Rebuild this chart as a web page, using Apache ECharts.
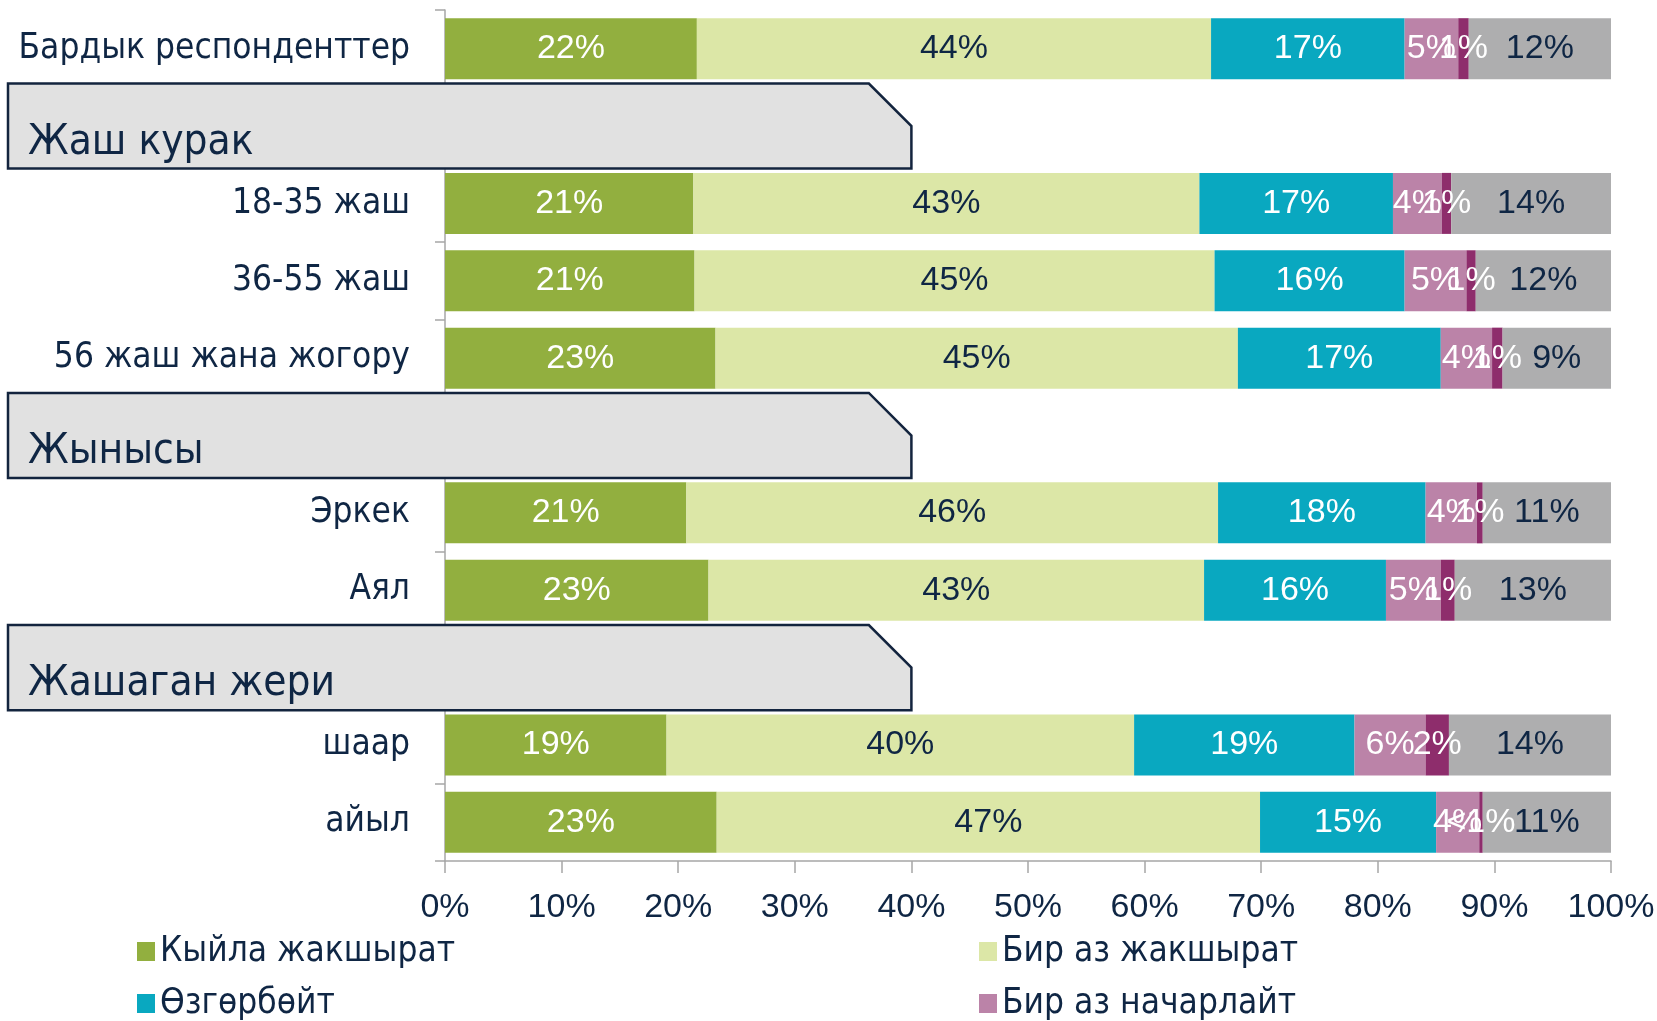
<!DOCTYPE html>
<html>
<head>
<meta charset="utf-8">
<script src="https://cdn.jsdelivr.net/npm/echarts@6/dist/echarts.min.js"></script>
<style>
  html, body { margin: 0; padding: 0; background: #fff; }
  #chart { width: 1657px; height: 1021px; }
</style>
</head>
<body>
<div id="chart"></div>
<script>
// категориялар (башкы сап аталыштары да ушул тизмеде)
const categories = ['Бардык респонденттер', 'Жаш курак', '18-35 жаш', '36-55 жаш', '56 жаш жана жогору',
  'Жынысы', 'Эркек', 'Аял', 'Жашаган жери', 'шаар', 'айыл'];
const headers = ['Жаш курак', 'Жынысы', 'Жашаган жери'];

const seriesNames = ['Кыйла жакшырат', 'Бир аз жакшырат', 'Өзгөрбөйт', 'Бир аз начарлайт', 'Кыйла начарлайт', 'Билбейм'];

const muchBetter   = [21.6, null, 21.3, 21.4, 23.2, null, 20.7, 22.6, null, 19.0, 23.3];
const littleBetter = [44.1, null, 43.4, 44.6, 44.8, null, 45.6, 42.5, null, 40.1, 46.6];
const noChange     = [16.6, null, 16.6, 16.3, 17.4, null, 17.8, 15.6, null, 18.9, 15.1];
const littleWorse  = [4.6,  null, 4.2,  5.3,  4.4,  null, 4.4,  4.7,  null, 6.1,  3.7];
const muchWorse    = [0.9,  null, 0.8,  0.8,  0.9,  null, 0.5,  1.2,  null, 2.0,  0.3];
const dontKnow     = [12.2, null, 13.7, 11.6, 9.3,  null, 11.0, 13.4, null, 13.9, 11.0];

const xTicks = [0, 10, 20, 30, 40, 50, 60, 70, 80, 90, 100];

const navy = '#0f2644';
const colors = ['#92af3f', '#dce7a7', '#09a8c0', '#bb83a8', '#8e2d6c', '#aeaeaf'];
const labelColors = ['#fff', navy, '#fff', '#fff', '#fff', navy];
const textFont = "'DejaVu Sans Condensed', 'DejaVu Sans', sans-serif";
const numFont = "'Liberation Sans Narrow', 'Liberation Sans', sans-serif";

const chart = echarts.init(document.getElementById('chart'));

const values = [muchBetter, littleBetter, noChange, littleWorse, muchWorse, dontKnow];

const barSeries = values.map((arr, i) => ({
  name: seriesNames[i],
  type: 'bar',
  stack: 'total',
  barWidth: 61,
  data: arr,
  itemStyle: { color: colors[i] },
  label: {
    show: true,
    position: 'inside',
    fontFamily: numFont,
    fontSize: 34,
    color: labelColors[i],
    formatter: p => {
      if (p.value == null) return '';
      return p.value < 0.5 ? '<1%' : Math.round(p.value) + '%';
    }
  },
  emphasis: { disabled: true }
}));

// сап аталыштарынын боз кутучалары
const headerSeries = {
  type: 'custom',
  name: 'headers',
  clip: false,
  z: 10,
  data: headers.map(h => [40, categories.indexOf(h), h]),
  renderItem: (params, api) => {
    const p = api.coord([api.value(0), api.value(1)]);
    const band = api.size([0, 1])[1];
    const h = band * 1.1;
    const top = p[1] - h / 2, bottom = p[1] + h / 2;
    const x0 = 8, x1 = p[0];
    return {
      type: 'group',
      children: [
        {
          type: 'polygon',
          shape: { points: [[x0, top], [x1 - h / 2, top], [x1, p[1]], [x1, bottom], [x0, bottom]] },
          style: { fill: '#e1e1e1', stroke: '#13243e', lineWidth: 2.5 }
        },
        {
          type: 'text',
          style: {
            x: 28, y: p[1] + 17,
            text: headers[params.dataIndex],
            fill: navy,
            font: '42px ' + textFont,
            verticalAlign: 'middle',
            align: 'left'
          }
        }
      ]
    };
  }
};

const legendBase = {
  orient: 'vertical',
  icon: 'rect',
  padding: 0,
  itemWidth: 18,
  itemHeight: 19,
  itemGap: 17,
  top: 934,
  textStyle: { color: navy, fontSize: 35, lineHeight: 34, fontFamily: textFont }
};

chart.setOption({
  animation: false,
  backgroundColor: '#fff',
  grid: { left: 445, right: 46, top: 10, bottom: 160, outerBoundsMode: 'none' },
  legend: [
    Object.assign({}, legendBase, { left: 137, data: [seriesNames[0], seriesNames[2]] }),
    Object.assign({}, legendBase, { left: 979, data: [seriesNames[1], seriesNames[3]] })
  ],
  xAxis: {
    type: 'value',
    min: xTicks[0],
    max: xTicks[xTicks.length - 1],
    interval: 10,
    splitLine: { show: false },
    axisLine: { show: true, lineStyle: { color: '#a6a6a6', width: 1.5 } },
    axisTick: { show: true, length: 12, lineStyle: { color: '#a6a6a6', width: 1.5 } },
    axisLabel: { formatter: '{value}%', color: navy, fontSize: 34, fontFamily: numFont, margin: 30 }
  },
  yAxis: {
    type: 'category',
    inverse: true,
    data: categories,
    axisLine: { show: true, lineStyle: { color: '#a6a6a6', width: 1.5 } },
    axisTick: { show: true, length: 10, lineStyle: { color: '#a6a6a6', width: 1.5 } },
    axisLabel: {
      color: navy,
      fontSize: 35,
      fontFamily: textFont,
      margin: 35,
      padding: [4, 0, 0, 0],
      formatter: v => headers.includes(v) ? '' : v
    }
  },
  series: barSeries.concat([headerSeries])
});

window.addEventListener('resize', () => chart.resize());
</script>
</body>
</html>
